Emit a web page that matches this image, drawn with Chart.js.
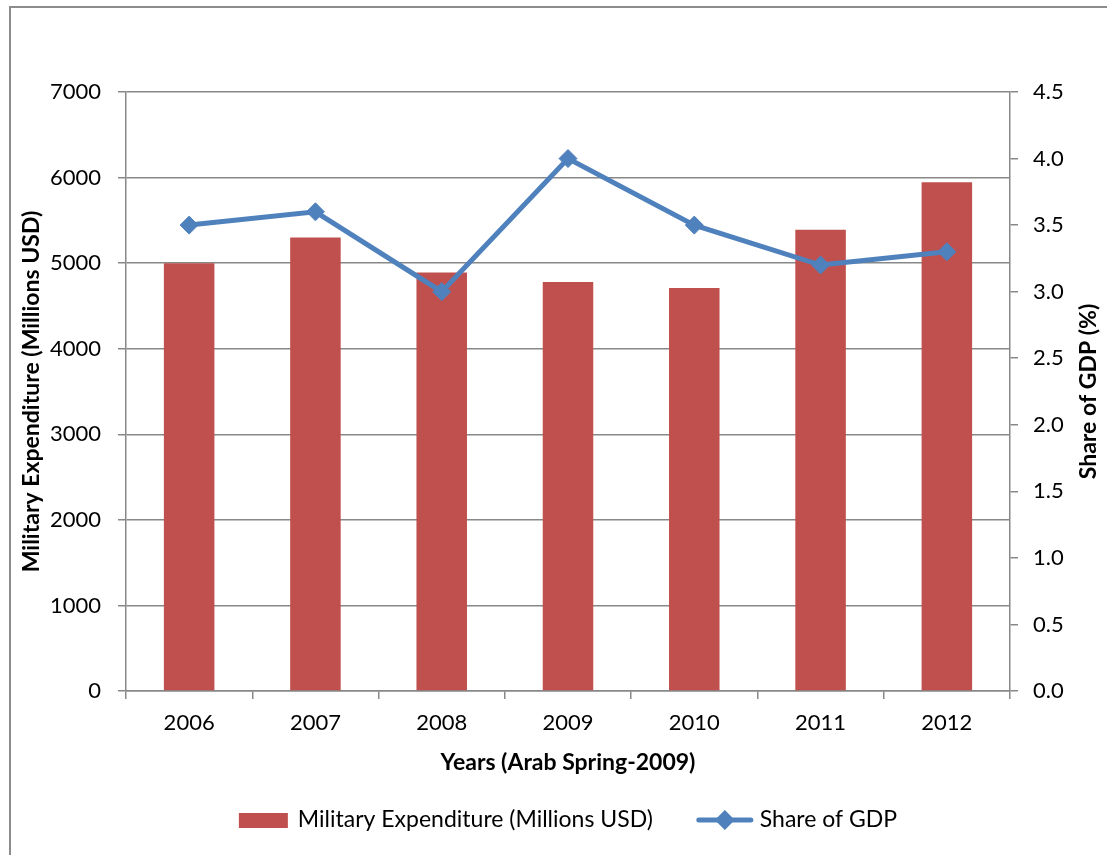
<!DOCTYPE html>
<html>
<head>
<meta charset="utf-8">
<script src="https://cdn.jsdelivr.net/npm/chart.js@4.4.0/dist/chart.umd.min.js"></script>
<style>
  html, body { margin: 0; padding: 0; background: #fff; overflow: hidden; }
  #wrap { position: relative; width: 1107px; height: 855px; }
  #frame { position: absolute; left: 9px; top: 6px; width: 1200px; height: 1000px; border: 2px solid #8c8c8c; box-sizing: border-box; }
  canvas { position: absolute; left: 0; top: 0; }
</style>
</head>
<body>
<div id="wrap">
  <div id="frame"></div>
  <canvas id="chart" width="1107" height="855"></canvas>
</div>
<script>
// Data
const years = ['2006', '2007', '2008', '2009', '2010', '2011', '2012'];
const militaryExpenditure = [5000, 5300, 4890, 4780, 4710, 5390, 5945];
const shareOfGdp = [3.5, 3.6, 3.0, 4.0, 3.5, 3.2, 3.3];

const barLabel = 'Military Expenditure (Millions USD)';
const lineLabel = 'Share of GDP';
const xTitle = 'Years (Arab Spring-2009)';
const leftTitle = 'Military Expenditure (Millions USD)';
const rightTitle = 'Share of GDP (%)';

// Colors / fonts
const barColor = '#C0504D';
const lineColor = '#4F81BD';
const gridColor = '#888888';
const fontFamily = 'Lato, "Open Sans", sans-serif';
const tickFont = { family: fontFamily, size: 22 };
const titleFont = { family: fontFamily, size: 23, weight: 'bold' };

// Legend below the x axis title (line + diamond for the line series),
// and the right axis title rotated to read bottom-to-top
const extrasPlugin = {
  id: 'extras',
  afterDraw(chart) {
    const ctx = chart.ctx;
    const area = chart.chartArea;
    const y = 820;
    ctx.save();
    ctx.font = '23px ' + fontFamily;
    ctx.fillStyle = '#000';
    ctx.textBaseline = 'middle';

    const w1 = ctx.measureText(barLabel).width;
    const w2 = ctx.measureText(lineLabel).width;
    const total = 49 + 10 + w1 + 46 + 52 + 9 + w2;
    let x = (area.left + area.right) / 2 - total / 2;

    // bar swatch
    ctx.fillStyle = barColor;
    ctx.fillRect(x, y - 7, 49, 15);
    x += 59;
    ctx.fillStyle = '#000';
    ctx.fillText(barLabel, x, y);
    x += w1 + 46;

    // line swatch
    ctx.strokeStyle = lineColor;
    ctx.lineWidth = 5;
    ctx.lineCap = 'round';
    ctx.beginPath();
    ctx.moveTo(x, y);
    ctx.lineTo(x + 52, y);
    ctx.stroke();
    ctx.fillStyle = lineColor;
    ctx.beginPath();
    ctx.moveTo(x + 26, y - 10);
    ctx.lineTo(x + 36, y);
    ctx.lineTo(x + 26, y + 10);
    ctx.lineTo(x + 16, y);
    ctx.closePath();
    ctx.fill();
    x += 61;
    ctx.fillStyle = '#000';
    ctx.fillText(lineLabel, x, y);

    // right axis title
    const y2 = chart.scales.y2;
    ctx.translate(y2.right - 18, (area.top + area.bottom) / 2);
    ctx.rotate(-Math.PI / 2);
    ctx.font = 'bold 23px ' + fontFamily;
    ctx.textAlign = 'center';
    ctx.fillText(rightTitle, 0, 0);
    ctx.restore();
  }
};

const ctx = document.getElementById('chart').getContext('2d');

new Chart(ctx, {
  type: 'bar',
  data: {
    labels: years,
    datasets: [
      {
        type: 'line',
        label: lineLabel,
        data: shareOfGdp,
        yAxisID: 'y2',
        borderColor: lineColor,
        backgroundColor: lineColor,
        borderWidth: 5,
        pointStyle: 'rectRot',
        pointRadius: 9,
        pointBorderWidth: 1,
        tension: 0,
        order: 0
      },
      {
        type: 'bar',
        label: barLabel,
        data: militaryExpenditure,
        yAxisID: 'y',
        backgroundColor: barColor,
        barPercentage: 0.4,
        categoryPercentage: 1.0,
        order: 1
      }
    ]
  },
  options: {
    responsive: false,
    animation: false,
    layout: { padding: { top: 92, bottom: 79, left: 0, right: 0 } },
    plugins: {
      legend: { display: false },
      tooltip: { enabled: false }
    },
    scales: {
      x: {
        offset: true,
        grid: {
          offset: true,
          drawOnChartArea: false,
          drawTicks: true,
          tickLength: 8,
          color: gridColor,
          lineWidth: 1.5
        },
        border: { color: gridColor, width: 1.5 },
        ticks: { color: '#000', font: tickFont, padding: 11 },
        title: {
          display: true,
          text: xTitle,
          color: '#000',
          font: titleFont,
          padding: { top: 0, bottom: 0 }
        },
        afterFit(scale) { scale.height = 85; }
      },
      y: {
        position: 'left',
        min: 0,
        max: 7000,
        ticks: {
          stepSize: 1000,
          color: '#000',
          font: tickFont,
          padding: 17,
          callback: v => String(v)
        },
        grid: { color: gridColor, lineWidth: 1.5, tickLength: 8 },
        border: { color: gridColor, width: 1.5 },
        title: {
          display: true,
          text: leftTitle,
          color: '#000',
          font: titleFont,
          padding: { top: 18, bottom: 0 }
        },
        afterFit(scale) { scale.width = 126; }
      },
      y2: {
        position: 'right',
        min: 0,
        max: 4.5,
        ticks: {
          stepSize: 0.5,
          color: '#000',
          font: tickFont,
          padding: 15,
          callback: v => v.toFixed(1)
        },
        grid: { drawOnChartArea: false, color: gridColor, lineWidth: 1.5, tickLength: 8 },
        border: { color: gridColor, width: 1.5 },
        title: { display: false },
        afterFit(scale) { scale.width = 97; }
      }
    }
  },
  plugins: [extrasPlugin]
});
</script>
</body>
</html>
